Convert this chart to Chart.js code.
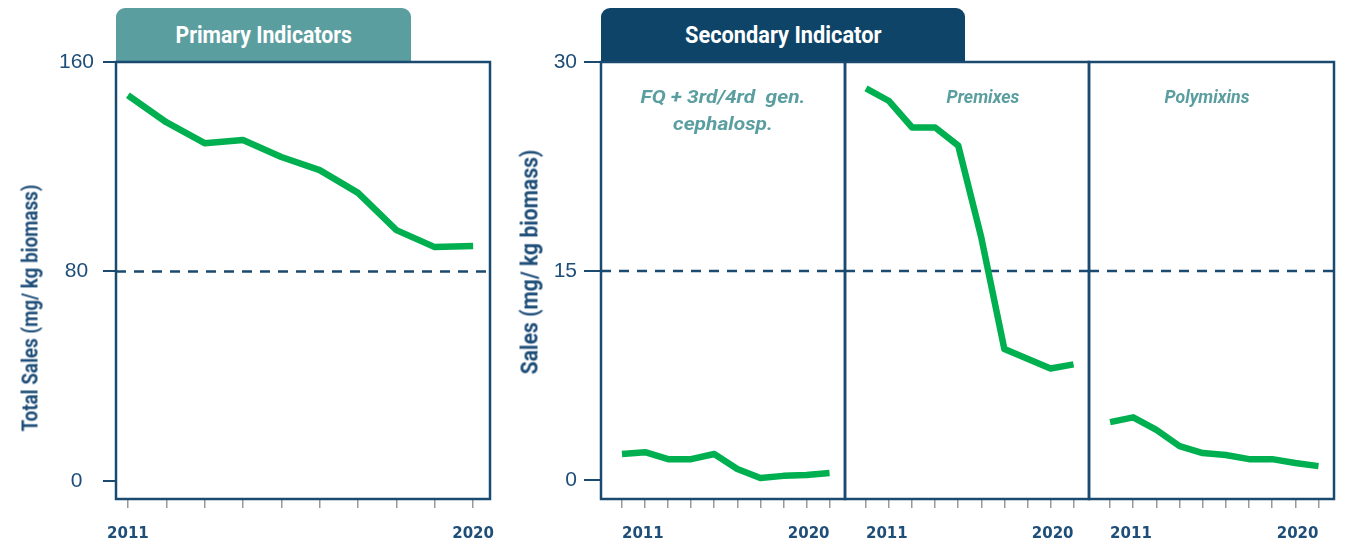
<!DOCTYPE html>
<html><head><meta charset="utf-8">
<script src="https://cdn.jsdelivr.net/npm/chart.js@4.4.1/dist/chart.umd.min.js"></script>
<style>
html,body{margin:0;padding:0;background:#fff;width:1346px;height:544px;overflow:hidden;}
#wrap{position:relative;width:1346px;height:544px;}
canvas{position:absolute;left:0;top:0;}
.tab{position:absolute;top:8px;height:54px;border-radius:9px 9px 0 0;color:#fff;font:bold 24px Roboto,"Liberation Sans",sans-serif;display:flex;align-items:center;justify-content:center;}
.tab span{display:inline-block;white-space:nowrap;}
.ytitle{position:absolute;color:#1f4e79;font:bold 22px Roboto,"Liberation Sans",sans-serif;white-space:nowrap;}
.ptitle{position:absolute;color:#5b9ea0;font:italic bold 19px Roboto,"Liberation Sans",sans-serif;text-align:center;line-height:27px;white-space:pre;}
</style>
</head><body>
<div id="wrap">
  <div class="tab" style="left:116px;width:295px;background:#5b9ea0;"><span data-w="176">Primary Indicators</span></div>
  <div class="tab" style="left:601px;width:364px;background:#0d4468;"><span data-w="196">Secondary Indicator</span></div>
  <canvas id="cA" width="1346" height="544"></canvas>
  <canvas id="cB" width="1346" height="544"></canvas>
  <canvas id="cC" width="1346" height="544"></canvas>
  <canvas id="cD" width="1346" height="544"></canvas>
  <div class="ytitle" data-w="247" data-rot="1" style="left:30px;top:308px;">Total Sales (mg/ kg biomass)</div>
  <div class="ytitle" data-w="225" data-rot="1" style="left:530px;top:262px;font-size:23px;">Sales (mg/ kg biomass)</div>
  <div class="ptitle" data-w="165" data-center="1" style="left:723px;top:83px;">FQ + 3rd/4rd  gen.
cephalosp.</div>
  <div class="ptitle" data-w="73" data-center="1" style="left:983px;top:83px;">Premixes</div>
  <div class="ptitle" data-w="85" data-center="1" style="left:1207px;top:83px;">Polymixins</div>
</div>
<script>
// ---- data ----
const years = [2011, 2012, 2013, 2014, 2015, 2016, 2017, 2018, 2019, 2020];
const labeledYears = [2011, 2020];
const totalSales = [147.3, 137.0, 129.0, 130.2, 123.7, 118.7, 110.0, 95.8, 89.3, 89.7];
const fqCephalosp = [1.87, 2.0, 1.5, 1.5, 1.87, 0.8, 0.15, 0.3, 0.36, 0.5];
const premixes = [28.1, 27.2, 25.3, 25.3, 24.0, 17.4, 9.4, 8.7, 8.0, 8.3];
const polymixins = [4.16, 4.5, 3.6, 2.44, 1.94, 1.8, 1.5, 1.5, 1.22, 1.0];
const primaryTarget = 80;
const secondaryTarget = 15;
const primaryTicks = [0, 80, 160];
const secondaryTicks = [0, 15, 30];

// ---- condense html text to the reference widths ----
document.querySelectorAll('[data-w]').forEach(el => {
  let w = el.offsetWidth;
  if (el.classList.contains('ptitle')) {
    const c = document.createElement('canvas').getContext('2d');
    c.font = getComputedStyle(el).font;
    w = c.measureText(el.textContent.split('\n')[0]).width;
  }
  const k = (+el.dataset.w) / w;
  if (el.dataset.rot) el.style.transform = `translate(-50%,-50%) rotate(-90deg) scaleX(${k})`;
  else if (el.dataset.center) el.style.transform = `translateX(-50%) scaleX(${k})`;
  else el.style.transform = `scaleX(${k})`;
});

// ---- styles ----
const NAVY = '#1b4a70';
const TXT = '#1f4e79';
const GREEN = '#00b050';
const W = 1346, H = 544;

const boxPlugin = {
  id: 'box',
  afterDraw(chart) {
    const {ctx, chartArea: a} = chart;
    ctx.save();
    ctx.strokeStyle = NAVY;
    ctx.lineWidth = 2.5;
    ctx.strokeRect(a.left, a.top, a.right - a.left, a.bottom - a.top);
    ctx.restore();
  }
};

function panel(id, o) {
  const pts = years.map((x, i) => ({x, y: o.values[i]}));
  new Chart(document.getElementById(id), {
    type: 'line',
    data: {
      datasets: [
        {data: pts, borderColor: GREEN, borderWidth: 6.5, pointRadius: 0, borderJoinStyle: 'round', tension: 0},
        {data: [{x: o.xMin, y: o.target}, {x: o.xMax, y: o.target}], borderColor: NAVY, borderWidth: 2.5,
         borderDash: [10, 8], pointRadius: 0}
      ]
    },
    options: {
      responsive: false, animation: false, devicePixelRatio: 1,
      layout: {padding: {left: o.showY ? 0 : o.left, right: W - o.right, top: 62, bottom: 0}},
      plugins: {legend: {display: false}, tooltip: {enabled: false}},
      scales: {
        x: {
          type: 'linear', min: o.xMin, max: o.xMax,
          afterBuildTicks: s => { s.ticks = years.map(v => ({value: v})); },
          afterFit: s => { s.height = H - 499; s.paddingLeft = 0; s.paddingRight = 0; },
          border: {display: false},
          grid: {drawOnChartArea: false, drawTicks: true, tickLength: 9, color: '#9a9a9a', lineWidth: 1.5},
          ticks: {
            autoSkip: false, maxRotation: 0, padding: 17, color: TXT, align: o.xAlign,
            font: {family: 'DejaVu Sans', weight: 'bold', size: 15},
            callback: v => labeledYears.includes(v) ? String(v) : ''
          }
        },
        y: {
          type: 'linear', min: o.yMin, max: o.yMax, display: o.showY,
          afterBuildTicks: s => { s.ticks = o.yTicks.map(v => ({value: v})); },
          afterFit: s => { if (o.showY) { s.width = o.left; s.paddingTop = 0; s.paddingBottom = 0; } },
          border: {display: false},
          grid: {drawOnChartArea: false, drawTicks: true, tickLength: o.yTickLen, color: NAVY, lineWidth: 2},
          ticks: {
            padding: o.yPad, color: TXT, crossAlign: o.cross,
            font: {family: 'Liberation Sans', size: 21}
          }
        }
      }
    },
    plugins: [boxPlugin]
  });
}

panel('cA', {left: 116, right: 490, xMin: 2010.69, xMax: 2020.44, yMin: -6.9, yMax: 160, xAlign: 'center',
  yTicks: primaryTicks, values: totalSales, target: primaryTarget, showY: true, yTickLen: 13, yPad: 9, cross: 'center'});
panel('cB', {left: 601, right: 845, xMin: 2010.09, xMax: 2020.67, yMin: -1.36, yMax: 30, xAlign: 'inner',
  yTicks: secondaryTicks, values: fqCephalosp, target: secondaryTarget, showY: true, yTickLen: 17, yPad: 7, cross: 'near'});
panel('cC', {left: 845, right: 1089, xMin: 2010.09, xMax: 2020.67, yMin: -1.36, yMax: 30, xAlign: 'inner',
  yTicks: secondaryTicks, values: premixes, target: secondaryTarget, showY: false, yTickLen: 0, yPad: 0, cross: 'near'});
panel('cD', {left: 1089, right: 1334, xMin: 2010.09, xMax: 2020.67, yMin: -1.36, yMax: 30, xAlign: 'inner',
  yTicks: secondaryTicks, values: polymixins, target: secondaryTarget, showY: false, yTickLen: 0, yPad: 0, cross: 'near'});
</script>
</body></html>
